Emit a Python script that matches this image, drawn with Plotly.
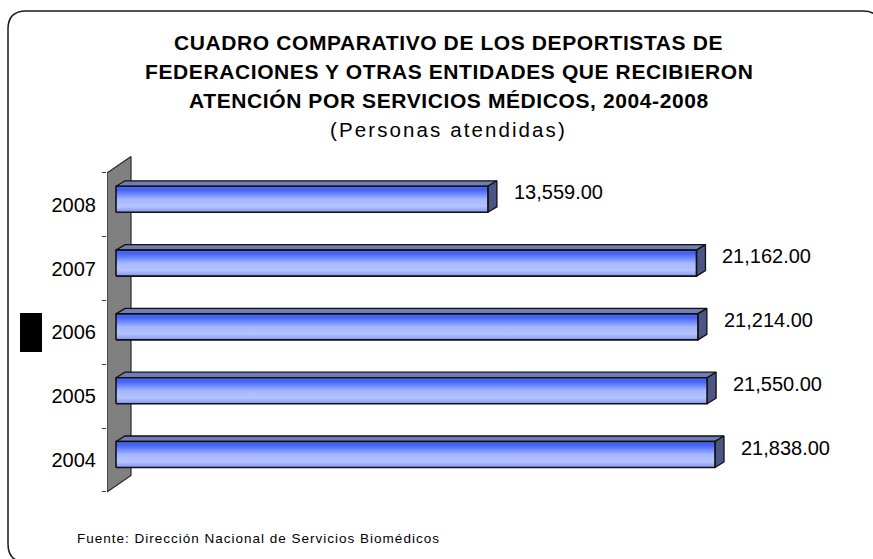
import plotly.graph_objects as go

# ---- data ----
years = ["2004", "2005", "2006", "2007", "2008"]
personas = [21838, 21550, 21214, 21162, 13559]

title_lines = [
    "CUADRO COMPARATIVO DE LOS DEPORTISTAS DE",
    "FEDERACIONES Y OTRAS ENTIDADES QUE RECIBIERON",
    "ATENCIÓN POR SERVICIOS MÉDICOS, 2004-2008",
]
subtitle = "(Personas atendidas)"
fuente = "Fuente: Dirección Nacional de Servicios Biomédicos"

# ---- layout geometry (pixels) ----
W, H = 873, 559
PLOT_L, PLOT_R, PLOT_T, PLOT_B = 107, 866, 140, 520
ROW_PX = 63.8            # height of one category band
ROW0_PX = 460            # centre of first category band
PX_PER_UNIT = 599 / 21838.0

FONT = "Liberation Sans, Arial, sans-serif"


def fx(px):
    return px / W


def fy(px):
    return 1 - px / H


def ux(px):
    """pixel distance -> x data units"""
    return px / PX_PER_UNIT


def uy(px):
    """pixel distance -> y (category index) units"""
    return px / ROW_PX


x_max = ux(PLOT_R - PLOT_L)
y_lo = (ROW0_PX - PLOT_B) / ROW_PX
y_hi = (ROW0_PX - PLOT_T) / ROW_PX

# 3-D projection offsets
WALL_DX, WALL_DY = ux(24), uy(16.5)
BAR_FX, BAR_FY = ux(9), uy(5.5)       # bar front plane relative to wall front
BAR_DX, BAR_DY = ux(9), uy(5.5)       # bar depth
BAR_HALF = uy(13)

fig = go.Figure()

# side wall
n = len(years)
wx = [0, WALL_DX, WALL_DX, 0, 0]
wy = [-0.5, -0.5 + WALL_DY, n - 0.5 + WALL_DY, n - 0.5, -0.5]
fig.add_trace(go.Scatter(x=wx, y=wy, mode="lines", fill="toself",
                         fillcolor="#808080",
                         line=dict(color="#2a2a2a", width=1.2),
                         hoverinfo="skip", showlegend=False))

front_scale = [
    [0.0, "#8192f2"],
    [0.22, "#b5c3ff"],
    [0.5, "#a6b6ff"],
    [0.75, "#5f7cff"],
    [0.88, "#3f60f6"],
    [1.0, "#5b72dc"],
]

annotations = []
for i, (yr, v) in enumerate(zip(years, personas)):
    yc = i + BAR_FY
    y0, y1 = yc - BAR_HALF, yc + BAR_HALF
    x0, x1 = BAR_FX, BAR_FX + v
    # top face
    fig.add_trace(go.Scatter(
        x=[x0, x0 + BAR_DX, x1 + BAR_DX, x1, x0],
        y=[y1, y1 + BAR_DY, y1 + BAR_DY, y1, y1],
        mode="lines", fill="toself", fillcolor="#6e7db5",
        line=dict(color="#111111", width=1.3),
        hoverinfo="skip", showlegend=False))
    # end face
    fig.add_trace(go.Scatter(
        x=[x1, x1 + BAR_DX, x1 + BAR_DX, x1, x1],
        y=[y1, y1 + BAR_DY, y0 + BAR_DY, y0, y1],
        mode="lines", fill="toself", fillcolor="#4b5685",
        line=dict(color="#111111", width=1.3),
        hoverinfo="skip", showlegend=False))
    # front face with gradient
    fig.add_trace(go.Scatter(
        x=[x0, x1, x1, x0, x0],
        y=[y0, y0, y1, y1, y0],
        mode="lines", fill="toself",
        fillgradient=dict(type="vertical", colorscale=front_scale),
        line=dict(color="#111111", width=1.6),
        hoverinfo="skip", showlegend=False))
    annotations.append(dict(
        x=x1 + BAR_DX, y=yc, xref="x", yref="y",
        text=f"{v:,.2f}", showarrow=False,
        xanchor="left", yanchor="middle", xshift=15, yshift=7,
        font=dict(family=FONT, size=20, color="#000000")))

# title block
title_y = [43, 72, 100]
for line, ypx in zip(title_lines, title_y):
    annotations.append(dict(
        x=fx(449), y=fy(ypx), xref="paper", yref="paper",
        text=f'<span style="letter-spacing:0.6px"><b>{line}</b></span>',
        showarrow=False, xanchor="center", yanchor="middle",
        font=dict(family=FONT, size=21, color="#000000")))
annotations.append(dict(
    x=fx(449), y=fy(130), xref="paper", yref="paper",
    text=f'<span style="letter-spacing:2.1px">{subtitle}</span>',
    showarrow=False, xanchor="center", yanchor="middle",
    font=dict(family=FONT, size=20.5, color="#000000")))
annotations.append(dict(
    x=fx(75), y=fy(538), xref="paper", yref="paper",
    text=f'<span style="letter-spacing:1.0px">{fuente}</span>',
    showarrow=False, xanchor="left", yanchor="middle",
    font=dict(family=FONT, size=13.5, color="#000000")))

# rounded chart border
L, T, R, B, rad = 8, 11, 881, 562, 18
border = (
    f"M {fx(L)},{fy(B - rad)} L {fx(L)},{fy(T + rad)} "
    f"Q {fx(L)},{fy(T)} {fx(L + rad)},{fy(T)} "
    f"L {fx(R - rad)},{fy(T)} Q {fx(R)},{fy(T)} {fx(R)},{fy(T + rad)} "
    f"L {fx(R)},{fy(B - rad)} Q {fx(R)},{fy(B)} {fx(R - rad)},{fy(B)} "
    f"L {fx(L + rad)},{fy(B)} Q {fx(L)},{fy(B)} {fx(L)},{fy(B - rad)} Z"
)

shapes = [
    dict(type="path", xref="paper", yref="paper", path=border,
         line=dict(color="#1a1a1a", width=1.5), fillcolor="rgba(0,0,0,0)",
         layer="below"),
    # legend key
    dict(type="rect", xref="paper", yref="paper",
         x0=fx(20), x1=fx(42), y0=fy(352), y1=fy(313),
         fillcolor="#000000", line=dict(width=0)),
]

fig.update_layout(
    width=W, height=H,
    margin=dict(l=0, r=0, t=0, b=0),
    paper_bgcolor="#ffffff", plot_bgcolor="rgba(0,0,0,0)",
    showlegend=False,
    xaxis=dict(domain=[fx(PLOT_L), fx(PLOT_R)], range=[0, x_max],
               visible=False, fixedrange=True),
    yaxis=dict(domain=[fy(PLOT_B), fy(PLOT_T)], range=[y_lo, y_hi],
               tickmode="array", tickvals=list(range(n)), ticktext=years,
               ticks="outside", ticklen=6, tickcolor="rgba(0,0,0,0)",
               showgrid=False, zeroline=False, showline=False,
               tickfont=dict(family=FONT, size=20, color="#000000"),
               minor=dict(tickmode="array",
                          tickvals=[i - 0.5 for i in range(n + 1)],
                          ticks="outside", ticklen=4, tickwidth=1,
                          tickcolor="#333333", showgrid=False),
               fixedrange=True),
    annotations=annotations,
    shapes=shapes,
)

fig.write_html("out.html")
